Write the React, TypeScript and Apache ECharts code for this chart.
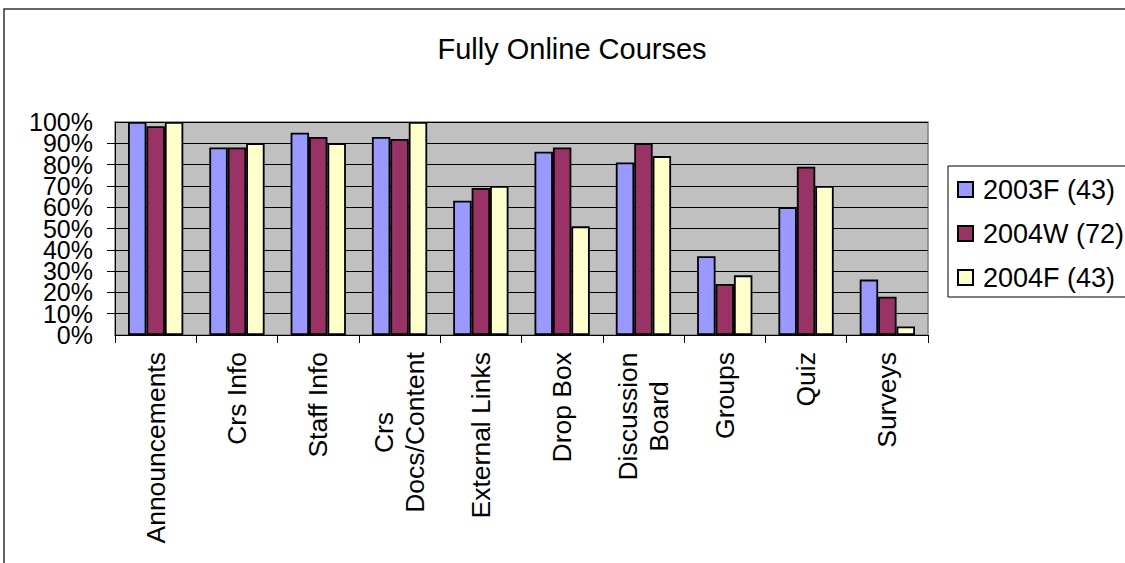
import React, { useEffect, useRef } from "react";
import * as echarts from "echarts";

const categories = [
  "Announcements",
  "Crs Info",
  "Staff Info",
  "Crs\nDocs/Content",
  "External Links",
  "Drop Box",
  "Discussion\nBoard",
  "Groups",
  "Quiz",
  "Surveys",
];
const seriesNames = ["2003F (43)", "2004W (72)", "2004F (43)"];
const s2003F = [100, 88, 95, 93, 63, 86, 81, 37, 60, 26];
const s2004W = [98, 88, 93, 92, 69, 88, 90, 24, 79, 18];
const s2004F = [100, 90, 90, 100, 70, 51, 84, 28, 70, 4];
const yTicks = [0, 10, 20, 30, 40, 50, 60, 70, 80, 90, 100];

const colors = ["#9999FF", "#993366", "#FFFFCC"];
const FONT = "'Liberation Sans', Arial, sans-serif";

export default function App() {
  const ref = useRef<HTMLDivElement>(null);
  useEffect(() => {
    if (!ref.current) return;
    const chart = echarts.init(ref.current, undefined, { renderer: "svg" });
    const mk = (name: string, data: number[], i: number) => ({
      name,
      type: "bar",
      data,
      yAxisIndex: 0,
      barGap: "0%",
      barCategoryGap: "32%",
      itemStyle: { color: colors[i], borderColor: "#000", borderWidth: 1.8 },
    });
    const catSize = 26.5;
    const yLabel = {
      fontSize: 25,
      color: "#000",
      fontFamily: FONT,
      margin: 22,
      hideOverlap: false,
      formatter: (v: number) => (yTicks.includes(v) ? `${v}%` : ""),
    };
    chart.setOption({
      animation: false,
      textStyle: { fontFamily: FONT },
      title: {
        text: "Fully Online Courses",
        left: 567,
        textAlign: "center",
        top: 29,
        textStyle: { fontFamily: FONT, fontSize: 29, fontWeight: "normal", color: "#000" },
      },
      graphic: [
        {
          type: "rect",
          shape: { x: 4, y: 9, width: 1200, height: 700 },
          style: { fill: "none", stroke: "#333", lineWidth: 1.5 },
          silent: true,
        },
      ],
      legend: {
        orient: "vertical",
        left: 948,
        top: 166,
        padding: [10, 40, 6, 9],
        itemGap: 17,
        itemWidth: 15,
        itemHeight: 15,
        borderColor: "#000",
        borderWidth: 1,
        backgroundColor: "#fff",
        selectedMode: false,
        data: seriesNames.map((n) => ({ name: n, icon: "rect" })),
        textStyle: { fontFamily: FONT, fontSize: 27, color: "#000", padding: [0, 0, 0, 5] },
      },
      grid: {
        left: 115,
        right: 197,
        top: 122,
        bottom: 228,
        show: true,
        backgroundColor: "#C0C0C0",
        borderColor: "#808080",
        borderWidth: 1.5,
      },
      xAxis: {
        type: "category",
        data: categories,
        axisLine: { lineStyle: { color: "#000", width: 1 } },
        axisTick: { show: true, length: 8, lineStyle: { color: "#000" } },
        axisLabel: {
          rotate: 90,
          interval: 0,
          margin: 17,
          fontSize: catSize,
          lineHeight: 31,
          color: "#000",
          fontFamily: FONT,
          formatter: (v: string) => {
            if (v.indexOf("\n") < 0) return v;
            const parts = v.split("\n");
            const longest = Math.max(...parts.map((p) => p.length));
            const style = longest > 11 ? "w" : "v";
            return parts.map((p) => `{${style}|${p}}`).join("\n");
          },
          rich: {
            w: { width: 161, align: "center", fontSize: catSize, lineHeight: 31, fontFamily: FONT, color: "#000" },
            v: { width: 129, align: "center", fontSize: catSize, lineHeight: 31, fontFamily: FONT, color: "#000" },
          },
        },
        splitLine: { show: false },
      },
      yAxis: [
        {
          type: "value",
          position: "left",
          min: 0,
          max: 100,
          interval: 10,
          axisLine: { show: true, lineStyle: { color: "#000", width: 1 } },
          axisTick: { show: true, length: 8, lineStyle: { color: "#000" } },
          axisLabel: { ...yLabel, showMinLabel: false, showMaxLabel: false },
          splitLine: { show: true, lineStyle: { color: "#000", width: 1 } },
        },
        {
          type: "value",
          position: "left",
          offset: 0,
          min: 0,
          max: 100,
          interval: 100,
          axisLine: { show: false },
          axisTick: { show: false },
          axisLabel: { ...yLabel, showMinLabel: true, showMaxLabel: true },
          splitLine: { show: false },
        },
      ],
      series: [mk(seriesNames[0], s2003F, 0), mk(seriesNames[1], s2004W, 1), mk(seriesNames[2], s2004F, 2)],
    });
    return () => chart.dispose();
  }, []);
  return (
    <div
      ref={ref}
      style={{ position: "fixed", left: 0, top: 0, width: 1125, height: 563, background: "#fff" }}
    />
  );
}
